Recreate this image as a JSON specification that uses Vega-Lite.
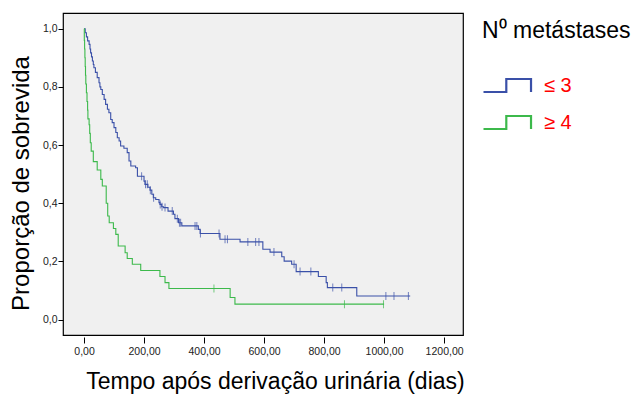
{
  "$schema": "https://vega.github.io/schema/vega-lite/v6.json",
  "width": 400,
  "height": 322,
  "autosize": {"type": "none"},
  "padding": {"left": 63, "top": 13, "right": 177, "bottom": 63},
  "background": "white",
  "config": {
    "font": "Liberation Sans",
    "view": {"fill": "#f0f0f0", "stroke": "#000000", "strokeWidth": 1.2}
  },
  "datasets": {
    "curve": [
      {"g": "≤ 3", "t": 0, "s": 1.0},
      {"g": "≤ 3", "t": 4, "s": 0.986},
      {"g": "≤ 3", "t": 8, "s": 0.972},
      {"g": "≤ 3", "t": 12, "s": 0.958},
      {"g": "≤ 3", "t": 17, "s": 0.946},
      {"g": "≤ 3", "t": 20, "s": 0.93},
      {"g": "≤ 3", "t": 22, "s": 0.917},
      {"g": "≤ 3", "t": 25, "s": 0.903},
      {"g": "≤ 3", "t": 28, "s": 0.889},
      {"g": "≤ 3", "t": 31, "s": 0.877},
      {"g": "≤ 3", "t": 33, "s": 0.866},
      {"g": "≤ 3", "t": 38, "s": 0.85},
      {"g": "≤ 3", "t": 44, "s": 0.832},
      {"g": "≤ 3", "t": 50, "s": 0.814},
      {"g": "≤ 3", "t": 53, "s": 0.80},
      {"g": "≤ 3", "t": 56, "s": 0.791},
      {"g": "≤ 3", "t": 61, "s": 0.774},
      {"g": "≤ 3", "t": 67, "s": 0.757},
      {"g": "≤ 3", "t": 72, "s": 0.740},
      {"g": "≤ 3", "t": 78, "s": 0.723},
      {"g": "≤ 3", "t": 83, "s": 0.711},
      {"g": "≤ 3", "t": 89, "s": 0.688},
      {"g": "≤ 3", "t": 94, "s": 0.677},
      {"g": "≤ 3", "t": 100, "s": 0.660},
      {"g": "≤ 3", "t": 106, "s": 0.643},
      {"g": "≤ 3", "t": 111, "s": 0.625},
      {"g": "≤ 3", "t": 117, "s": 0.614},
      {"g": "≤ 3", "t": 122, "s": 0.597},
      {"g": "≤ 3", "t": 133, "s": 0.589},
      {"g": "≤ 3", "t": 144, "s": 0.574},
      {"g": "≤ 3", "t": 150, "s": 0.545},
      {"g": "≤ 3", "t": 156, "s": 0.528},
      {"g": "≤ 3", "t": 172, "s": 0.522},
      {"g": "≤ 3", "t": 178, "s": 0.493},
      {"g": "≤ 3", "t": 200, "s": 0.476},
      {"g": "≤ 3", "t": 203, "s": 0.465},
      {"g": "≤ 3", "t": 213, "s": 0.455},
      {"g": "≤ 3", "t": 220, "s": 0.445},
      {"g": "≤ 3", "t": 226, "s": 0.431},
      {"g": "≤ 3", "t": 231, "s": 0.419},
      {"g": "≤ 3", "t": 239, "s": 0.413},
      {"g": "≤ 3", "t": 250, "s": 0.402},
      {"g": "≤ 3", "t": 253, "s": 0.396},
      {"g": "≤ 3", "t": 259, "s": 0.388},
      {"g": "≤ 3", "t": 265, "s": 0.385},
      {"g": "≤ 3", "t": 280, "s": 0.373},
      {"g": "≤ 3", "t": 298, "s": 0.362},
      {"g": "≤ 3", "t": 303, "s": 0.347},
      {"g": "≤ 3", "t": 315, "s": 0.333},
      {"g": "≤ 3", "t": 326, "s": 0.322},
      {"g": "≤ 3", "t": 381, "s": 0.310},
      {"g": "≤ 3", "t": 387, "s": 0.296},
      {"g": "≤ 3", "t": 453, "s": 0.276},
      {"g": "≤ 3", "t": 520, "s": 0.267},
      {"g": "≤ 3", "t": 596, "s": 0.242},
      {"g": "≤ 3", "t": 620, "s": 0.232},
      {"g": "≤ 3", "t": 659, "s": 0.216},
      {"g": "≤ 3", "t": 667, "s": 0.201},
      {"g": "≤ 3", "t": 692, "s": 0.190},
      {"g": "≤ 3", "t": 707, "s": 0.165},
      {"g": "≤ 3", "t": 781, "s": 0.148},
      {"g": "≤ 3", "t": 807, "s": 0.127},
      {"g": "≤ 3", "t": 811, "s": 0.110},
      {"g": "≤ 3", "t": 909, "s": 0.081},
      {"g": "≤ 3", "t": 1087, "s": 0.081},
      {"g": "≥ 4", "t": 0, "s": 1.0},
      {"g": "≥ 4", "t": 1, "s": 0.96},
      {"g": "≥ 4", "t": 2, "s": 0.93},
      {"g": "≥ 4", "t": 3, "s": 0.90},
      {"g": "≥ 4", "t": 4, "s": 0.87},
      {"g": "≥ 4", "t": 5, "s": 0.84},
      {"g": "≥ 4", "t": 6, "s": 0.81},
      {"g": "≥ 4", "t": 8, "s": 0.78},
      {"g": "≥ 4", "t": 10, "s": 0.75},
      {"g": "≥ 4", "t": 12, "s": 0.72},
      {"g": "≥ 4", "t": 13, "s": 0.69},
      {"g": "≥ 4", "t": 17, "s": 0.67},
      {"g": "≥ 4", "t": 19, "s": 0.64},
      {"g": "≥ 4", "t": 21, "s": 0.608},
      {"g": "≥ 4", "t": 24, "s": 0.579},
      {"g": "≥ 4", "t": 31, "s": 0.543},
      {"g": "≥ 4", "t": 44, "s": 0.514},
      {"g": "≥ 4", "t": 56, "s": 0.482},
      {"g": "≥ 4", "t": 61, "s": 0.459},
      {"g": "≥ 4", "t": 74, "s": 0.40},
      {"g": "≥ 4", "t": 79, "s": 0.356},
      {"g": "≥ 4", "t": 84, "s": 0.333},
      {"g": "≥ 4", "t": 98, "s": 0.313},
      {"g": "≥ 4", "t": 106, "s": 0.293},
      {"g": "≥ 4", "t": 114, "s": 0.253},
      {"g": "≥ 4", "t": 137, "s": 0.230},
      {"g": "≥ 4", "t": 144, "s": 0.210},
      {"g": "≥ 4", "t": 161, "s": 0.190},
      {"g": "≥ 4", "t": 189, "s": 0.169},
      {"g": "≥ 4", "t": 253, "s": 0.148},
      {"g": "≥ 4", "t": 270, "s": 0.127},
      {"g": "≥ 4", "t": 283, "s": 0.107},
      {"g": "≥ 4", "t": 487, "s": 0.076},
      {"g": "≥ 4", "t": 503, "s": 0.053},
      {"g": "≥ 4", "t": 1000, "s": 0.053}
    ],
    "cens": [
      {"g": "≤ 3", "t": 192, "s": 0.493},
      {"g": "≤ 3", "t": 205, "s": 0.465},
      {"g": "≤ 3", "t": 211, "s": 0.465},
      {"g": "≤ 3", "t": 221, "s": 0.445},
      {"g": "≤ 3", "t": 232, "s": 0.419},
      {"g": "≤ 3", "t": 254, "s": 0.396},
      {"g": "≤ 3", "t": 260, "s": 0.388},
      {"g": "≤ 3", "t": 270, "s": 0.385},
      {"g": "≤ 3", "t": 294, "s": 0.373},
      {"g": "≤ 3", "t": 311, "s": 0.347},
      {"g": "≤ 3", "t": 318, "s": 0.333},
      {"g": "≤ 3", "t": 322, "s": 0.333},
      {"g": "≤ 3", "t": 370, "s": 0.322},
      {"g": "≤ 3", "t": 376, "s": 0.322},
      {"g": "≤ 3", "t": 388, "s": 0.296},
      {"g": "≤ 3", "t": 450, "s": 0.296},
      {"g": "≤ 3", "t": 470, "s": 0.276},
      {"g": "≤ 3", "t": 478, "s": 0.276},
      {"g": "≤ 3", "t": 546, "s": 0.267},
      {"g": "≤ 3", "t": 572, "s": 0.267},
      {"g": "≤ 3", "t": 583, "s": 0.267},
      {"g": "≤ 3", "t": 633, "s": 0.232},
      {"g": "≤ 3", "t": 700, "s": 0.190},
      {"g": "≤ 3", "t": 720, "s": 0.165},
      {"g": "≤ 3", "t": 756, "s": 0.165},
      {"g": "≤ 3", "t": 829, "s": 0.110},
      {"g": "≤ 3", "t": 859, "s": 0.110},
      {"g": "≤ 3", "t": 1006, "s": 0.081},
      {"g": "≤ 3", "t": 1033, "s": 0.081},
      {"g": "≤ 3", "t": 1081, "s": 0.081},
      {"g": "≥ 4", "t": 433, "s": 0.107},
      {"g": "≥ 4", "t": 868, "s": 0.053},
      {"g": "≥ 4", "t": 998, "s": 0.053}
    ]
  },
  "layer": [
    {
      "data": {"name": "curve"},
      "mark": {"type": "line", "interpolate": "step-after", "strokeWidth": 1.1},
      "encoding": {
        "x": {
          "field": "t", "type": "quantitative",
          "scale": {"domain": [-70, 1263], "nice": false, "zero": false},
          "axis": {
            "values": [0, 200, 400, 600, 800, 1000, 1200],
            "labelExpr": "replace(format(datum.value, '.2f'), '.', ',')",
            "grid": false, "domain": false, "offset": 2,
            "tickSize": 6, "tickColor": "#000", "labelFontSize": 10.5, "labelColor": "#222",
            "labelPadding": 3,
            "title": "Tempo após derivação urinária (dias)",
            "titleFontSize": 23, "titleFontWeight": "normal", "titleColor": "#000",
            "titleX": 212, "titleY": 51, "titleAlign": "center", "titleBaseline": "alphabetic"
          }
        },
        "y": {
          "field": "s", "type": "quantitative",
          "scale": {"domain": [-0.053, 1.054], "nice": false, "zero": false},
          "axis": {
            "values": [0, 0.2, 0.4, 0.6, 0.8, 1.0],
            "labelExpr": "replace(format(datum.value, '.1f'), '.', ',')",
            "grid": false, "domain": false,
            "tickSize": 5, "tickColor": "#000", "labelFontSize": 10.5, "labelColor": "#222",
            "labelPadding": 1,
            "title": "Proporção de sobrevida",
            "titleFontSize": 24, "titleFontWeight": "normal", "titleColor": "#000",
            "titleX": -35, "titleY": 170, "titleAngle": -90, "titleAlign": "center", "titleBaseline": "alphabetic"
          }
        },
        "color": {
          "field": "g", "type": "nominal",
          "scale": {"domain": ["≤ 3", "≥ 4"], "range": ["#3a50a8", "#3cb94b"]},
          "legend": {
            "orient": "none", "legendX": 419, "legendY": 7, "padding": 0,
            "title": "N⁰ metástases", "titleFontSize": 23, "titleFontWeight": "normal",
            "titleColor": "#000", "titlePadding": 17,
            "symbolType": "M-1,0.27H-0.05V-0.27H0.98V0.27",
            "symbolSize": 2304, "symbolStrokeWidth": 2.2,
            "labelFontSize": 20, "labelColor": "#ff0000", "labelOffset": 11,
            "rowPadding": -9,
            "encode": {"symbols": {"update": {"fill": {"value": "transparent"}, "fillOpacity": {"value": 0}}}}
          }
        },
        "order": {"field": "t", "type": "quantitative"}
      }
    },
    {
      "data": {"name": "cens"},
      "mark": {"type": "tick", "orient": "vertical", "size": 8, "thickness": 1},
      "encoding": {
        "x": {"field": "t", "type": "quantitative"},
        "y": {"field": "s", "type": "quantitative"},
        "color": {"field": "g", "type": "nominal", "legend": null}
      }
    }
  ]
}
